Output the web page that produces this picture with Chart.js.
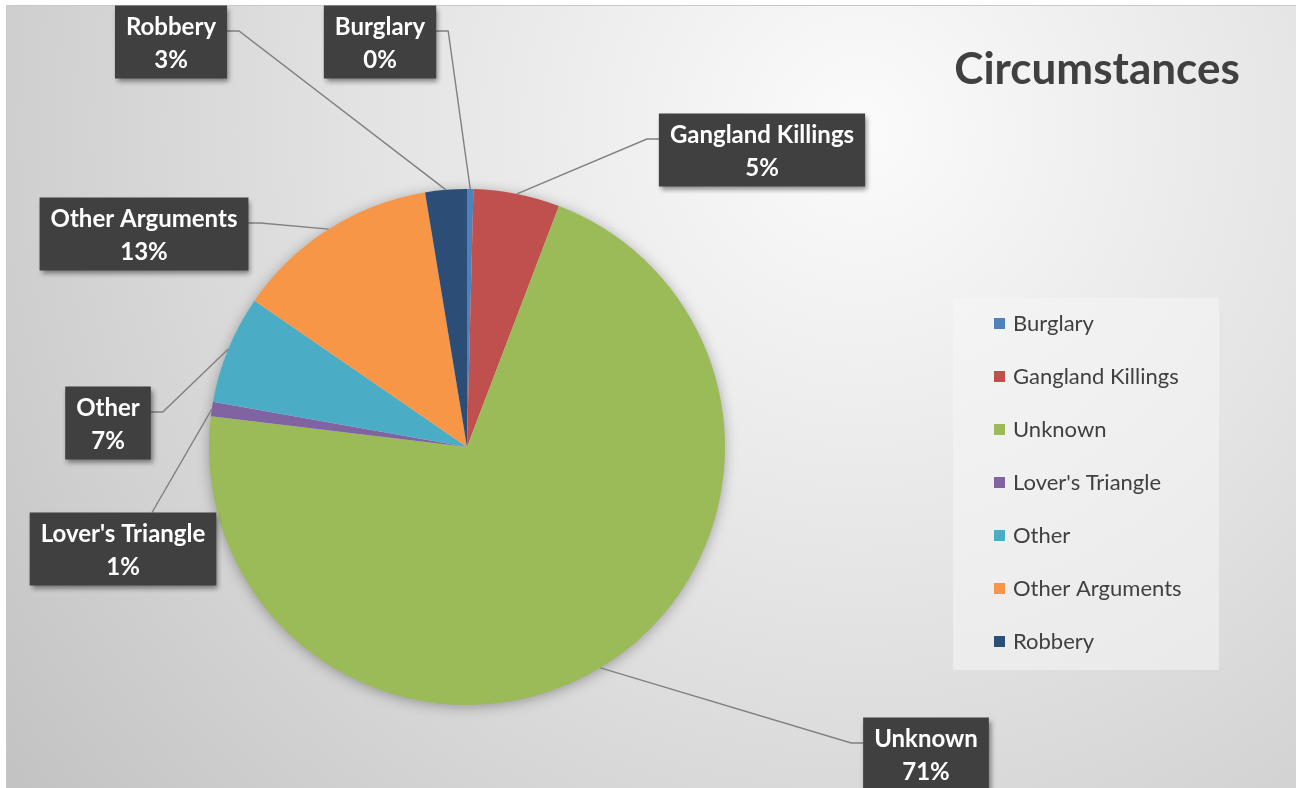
<!DOCTYPE html>
<html>
<head>
<meta charset="utf-8">
<title>Circumstances</title>
<script src="https://cdn.jsdelivr.net/npm/chart.js@4.4.1/dist/chart.umd.min.js"></script>
<style>
  html, body { margin: 0; padding: 0; background: #fff; }
  canvas { display: block; }
</style>
</head>
<body>
<canvas id="circumstances-chart" width="1296" height="788"></canvas>
<script>
let categories = ['Burglary', 'Gangland Killings', 'Unknown', "Lover's Triangle", 'Other', 'Other Arguments', 'Robbery'];
let shares = [0.4, 5.4, 71.1, 0.9, 6.8, 12.8, 2.6];
let slice_colors = ['#4f81bd', '#c0504d', '#9bbb59', '#8064a2', '#4bacc6', '#f79646', '#2c4d75'];
let chart_title = 'Circumstances';

// where each dark data label box sits and which edge its leader line leaves from
let label_boxes = [
    {x: 380, y: 42, side: 'right'},
    {x: 762, y: 150, side: 'left'},
    {x: 926, y: 754, side: 'left'},
    {x: 123, y: 549, side: 'top', dx: 29},
    {x: 108, y: 423, side: 'right'},
    {x: 144, y: 234, side: 'right'},
    {x: 171, y: 42, side: 'right'},
];

let FONT = 'Lato, "Open Sans", sans-serif';
let TEXT_COLOR = '#404040';

let percent_of = function(i) {
    let total = shares.reduce(function(a, b) { return a + b; }, 0);
    return Math.round(shares[i] / total * 100) + '%';
};

let decorations = {
    id: 'decorations',
    beforeDraw: function(chart) {
        let ctx = chart.ctx;
        ctx.save();
        ctx.fillStyle = '#ffffff';
        ctx.fillRect(0, 0, chart.width, chart.height);
        let grad = ctx.createRadialGradient(860, 130, 0, 860, 130, 1120);
        grad.addColorStop(0, '#fbfbfb');
        grad.addColorStop(0.42, '#e4e4e4');
        grad.addColorStop(1, '#c0c0c0');
        ctx.fillStyle = grad;
        ctx.fillRect(6, 5, chart.width - 6, chart.height - 5);
        ctx.strokeStyle = '#c8c8c8';
        ctx.lineWidth = 1;
        ctx.beginPath();
        ctx.moveTo(6.5, chart.height);
        ctx.lineTo(6.5, 5.5);
        ctx.lineTo(chart.width, 5.5);
        ctx.stroke();
        ctx.restore();
    },
    beforeDatasetsDraw: function(chart) {
        // soft shadow under the whole pie
        let arc = chart.getDatasetMeta(0).data[0];
        let ctx = chart.ctx;
        ctx.save();
        ctx.shadowColor = 'rgba(0,0,0,0.35)';
        ctx.shadowBlur = 14;
        ctx.shadowOffsetY = 2;
        ctx.fillStyle = '#d8d8d8';
        ctx.beginPath();
        ctx.arc(arc.x, arc.y, arc.outerRadius - 1, 0, Math.PI * 2);
        ctx.fill();
        ctx.restore();
    },
    afterDatasetsDraw: function(chart) {
        let ctx = chart.ctx;
        let meta = chart.getDatasetMeta(0);
        ctx.save();
        ctx.font = 'bold 24px ' + FONT;
        let boxes = label_boxes.map(function(b, i) {
            let lines = [categories[i], percent_of(i)];
            let w = Math.max(ctx.measureText(lines[0]).width, ctx.measureText(lines[1]).width) + 22;
            return {cx: b.x, cy: b.y, w: w, h: 73, lines: lines, side: b.side, dx: b.dx || 0};
        });

        // leader lines
        ctx.strokeStyle = '#808080';
        ctx.lineWidth = 1.4;
        boxes.forEach(function(b, i) {
            let el = meta.data[i];
            let mid = (el.startAngle + el.endAngle) / 2;
            let ax = el.x + Math.cos(mid) * el.outerRadius;
            let ay = el.y + Math.sin(mid) * el.outerRadius;
            ctx.beginPath();
            if (b.side == 'top') {
                ctx.moveTo(b.cx + b.dx, b.cy - b.h / 2);
            } else {
                let dir = b.side == 'right' ? 1 : -1;
                let bx = b.cx + dir * b.w / 2;
                let by = b.cy - 11;
                ctx.moveTo(bx, by);
                ctx.lineTo(bx + dir * 12, by);
            }
            ctx.lineTo(ax, ay);
            ctx.stroke();
        });

        // label boxes
        boxes.forEach(function(b) {
            ctx.save();
            ctx.shadowColor = 'rgba(0,0,0,0.45)';
            ctx.shadowBlur = 5;
            ctx.shadowOffsetX = 2;
            ctx.shadowOffsetY = 3;
            ctx.fillStyle = '#404040';
            ctx.fillRect(b.cx - b.w / 2, b.cy - b.h / 2, b.w, b.h);
            ctx.restore();
            ctx.fillStyle = '#ffffff';
            ctx.textAlign = 'center';
            ctx.textBaseline = 'middle';
            ctx.fillText(b.lines[0], b.cx, b.cy - 15);
            ctx.fillText(b.lines[1], b.cx, b.cy + 18);
        });
        ctx.restore();
    },
    afterDraw: function(chart) {
        let ctx = chart.ctx;
        ctx.save();

        // title
        ctx.fillStyle = TEXT_COLOR;
        ctx.font = 'bold 44px ' + FONT;
        ctx.textAlign = 'center';
        ctx.textBaseline = 'middle';
        ctx.fillText(chart_title, 1097, 70);

        // legend
        ctx.fillStyle = 'rgba(245,245,245,0.55)';
        ctx.fillRect(953, 298, 266, 372);
        ctx.font = '22px ' + FONT;
        ctx.textAlign = 'left';
        categories.forEach(function(name, i) {
            let y = 324 + i * 53;
            ctx.fillStyle = slice_colors[i];
            ctx.fillRect(994, y - 6, 11, 11);
            ctx.fillStyle = TEXT_COLOR;
            ctx.fillText(name, 1013, y);
        });
        ctx.restore();
    }
};

window.onload = function() {
    let chart_element = document.getElementById('circumstances-chart');
    let chart = new Chart(chart_element, {
        type: 'pie',
        data: {
            labels: categories,
            datasets: [{
                data: shares,
                backgroundColor: slice_colors,
                borderWidth: 0,
            }],
        },
        options: {
            responsive: false,
            animation: false,
            layout: {
                padding: {left: 209, right: 571, top: 189, bottom: 83},
            },
            plugins: {
                legend: {display: false},
                tooltip: {enabled: false},
                title: {display: false},
            },
        },
        plugins: [decorations],
    });
};
</script>
</body>
</html>
